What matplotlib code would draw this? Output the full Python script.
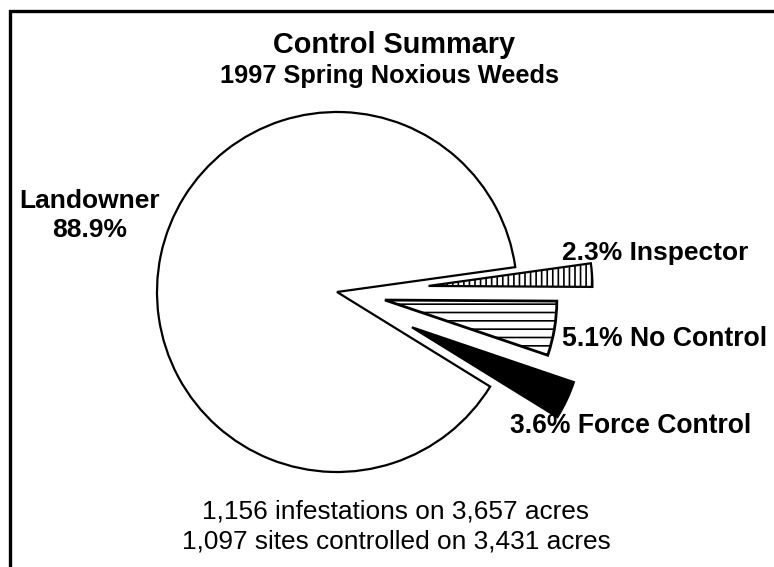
import numpy as np
import matplotlib.pyplot as plt

plt.rcParams['font.family'] = ['Liberation Sans', 'DejaVu Sans']
plt.rcParams['hatch.linewidth'] = 1.2

# dados do grafico
categorias = ["Landowner", "Inspector", "No Control", "Force Control"]
percentuais = [88.9, 2.3, 5.1, 3.6]
rotulos = ["Landowner\n88.9%", "2.3% Inspector", "5.1% No Control", "3.6% Force Control"]
titulo = "Control Summary"
subtitulo = "1997 Spring Noxious Weeds"
rodape = ["1,156 infestations on 3,657 acres", "1,097 sites controlled on 3,431 acres"]

# estilo das fatias
cores = ["white", "white", "white", "black"]
hachuras = [None, "|||", "--", None]
explode_frac = [0, 0.51, 0.27, 0.46]   # fracao do raio
raio_frac = [1, 0.91, 0.955, 0.95]

W, H = 774, 567
fig = plt.figure(figsize=(W / 100, H / 100), dpi=100)
ax = fig.add_axes([0, 0, 1, 1])

centro = (337, 275)
raio = 180

wedges, _ = ax.pie(
    percentuais,
    explode=[e * raio for e in explode_frac],
    colors=cores,
    startangle=-31.7,
    counterclock=False,
    center=centro,
    radius=raio,
    wedgeprops=dict(edgecolor="black", linewidth=1.6),
)
for w, h, rf in zip(wedges, hachuras, raio_frac):
    w.set_radius(raio * rf)
    if h:
        w.set_hatch(h)
wedges[2].set_linewidth(2.0)

ax.set_xlim(0, W)
ax.set_ylim(0, H)
ax.set_aspect("equal")
ax.axis("off")

# moldura (cortada a direita e embaixo)
ax.plot([10, 10, W + 20], [-20, 556, 556], color="black", linewidth=2.4,
        solid_joinstyle="miter", clip_on=False)

# titulos
ax.text(394, 514, titulo, ha="center", va="baseline", fontsize=20.8, fontweight="bold")
ax.text(389, 484, subtitulo, ha="center", va="baseline", fontsize=18.3, fontweight="bold")

# rotulos das fatias
ax.text(90, 359, "Landowner", ha="center", va="baseline", fontsize=19, fontweight="bold")
ax.text(90, 330, "88.9%", ha="center", va="baseline", fontsize=19, fontweight="bold")
ax.text(562, 307, rotulos[1], ha="left", va="baseline", fontsize=19, fontweight="bold")
ax.text(562, 221, rotulos[2], ha="left", va="baseline", fontsize=19.2, fontweight="bold")
ax.text(510, 134, rotulos[3], ha="left", va="baseline", fontsize=19.1, fontweight="bold")

# rodape
ax.text(396, 49, rodape[0], ha="center", va="baseline", fontsize=18.9)
ax.text(396, 19, rodape[1], ha="center", va="baseline", fontsize=18.9)

plt.savefig("out.png", dpi=100)
